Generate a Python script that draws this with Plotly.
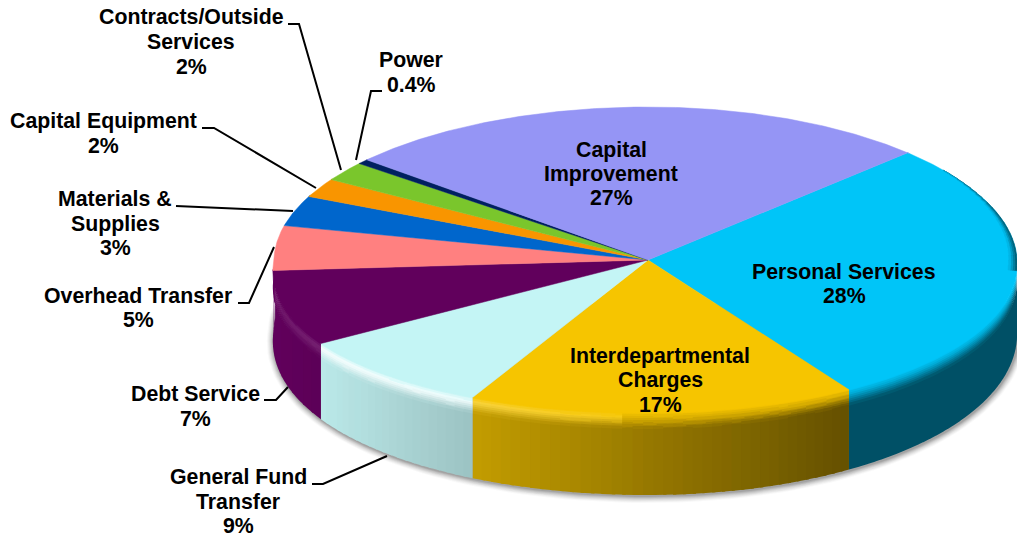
import math
import numpy as np
import plotly.graph_objects as go

# ---- data ----
categories = ["Personal Services", "Interdepartmental Charges", "General Fund Transfer",
              "Debt Service", "Overhead Transfer", "Materials & Supplies",
              "Capital Equipment", "Contracts/Outside Services", "Power", "Capital Improvement"]
# slice sizes as read from the drawn (perspective) picture
values = [28.47, 16.1, 8.6, 8.1, 4.7, 3.2, 2.0, 2.05, 0.5, 26.28]
percent_labels = ["28%", "17%", "9%", "7%", "5%", "3%", "2%", "2%", "0.4%", "27%"]
top_colors = ["#00C5F8", "#F6C500", "#C4F5F5", "#61005C", "#FF8080",
              "#0066CC", "#F99500", "#7AC62C", "#002060", "#9595F5"]
highlights = [0.0, 0.3, 0.85, 0.14, 0.1, 0.1, 0.1, 0.1, 0.0, 0.0]

# ---- geometry / style ----
W, H = 1017, 537
CX, CY, B = 648.0, 260.0, 153.0
START = 44.5
BEVEL = 16.0
FONT = dict(family="Liberation Sans, Arial, sans-serif", size=21.3, color="black")

label_lines = [
    (["Personal Services", percent_labels[0]], 844, [272, 296]),
    (["Interdepartmental", "Charges", percent_labels[1]], 660, [356, 380, 405]),
    (["General Fund", "Transfer", percent_labels[2]], 238, [477, 502, 526]),
    (["Debt Service", percent_labels[3]], 195, [394, 419]),
    (["Overhead Transfer", percent_labels[4]], 138, [296, 320]),
    (["Materials &", "Supplies", percent_labels[5]], 115, [199, 224, 248]),
    (["Capital Equipment", percent_labels[6]], 103, [121, 146]),
    (["Contracts/Outside", "Services", percent_labels[7]], 191, [17, 42, 67]),
    (["Power", percent_labels[8]], 411, [60, 85]),
    (["Capital", "Improvement", percent_labels[9]], 611, [150, 174, 198]),
]
leaders = [
    ([312, 323, 387], [484, 484, 456]),
    ([264, 276, 288], [400, 400, 387]),
    ([238, 249, 274], [303, 303, 247]),
    ([176, 293], [206, 211]),
    ([202, 214, 316], [128, 128, 188]),
    ([288, 299, 341], [24, 24, 170]),
    ([382, 371, 356], [91, 91, 160]),
]


def rgb(h):
    h = h.lstrip("#")
    return np.array([int(h[i:i + 2], 16) for i in (0, 2, 4)], dtype=float)


def to_hex(c):
    c = np.clip(np.round(np.asarray(c) / 2) * 2, 0, 255).astype(int)
    return "#%02X%02X%02X" % tuple(c)


def lerp(p, q, s):
    return p + (q - p) * s


def half_width(t_deg):
    t = math.radians(t_deg)
    sn, cs = math.sin(t), math.cos(t)
    if sn >= 0:
        return 369 - 7 * sn if cs >= 0 else 374 - 3 * sn
    return 374 + 30 * abs(sn) if cs < 0 else 369 + 12 * abs(sn)


def rim(t_deg, shrink_a=0.0, shrink_b=0.0):
    t = math.radians(t_deg)
    return CX + (half_width(t_deg) - shrink_a) * math.cos(t), CY - (B - shrink_b) * math.sin(t)


def depth(t_deg):
    return 68 + 14 * abs(math.sin(math.radians(t_deg)))


def shade(x):
    return float(np.interp(x, [272, 322, 848], [1.0, 0.95, 0.41]))


def hl_amount(x):
    return float(np.interp(x, [272, 322, 472, 620, 760], [0.6, 1.0, 0.85, 0.3, 0.0]))


# slice angles (clockwise from START), derived from the values
total = sum(values)
edges = [START]
for v in values:
    edges.append(edges[-1] - v / total * 360.0)

polys = {}


def add_poly(color, xs, ys):
    bucket = polys.setdefault(color, ([], []))
    bucket[0].extend(list(xs) + [xs[0], None])
    bucket[1].extend(list(ys) + [ys[0], None])


fig = go.Figure()

# soft shadow below the pie
ts = np.arange(-190, 10.01, 2.0)
for e, alpha in zip([7, 6, 5, 4, 3, 2, 1], [0.03, 0.05, 0.06, 0.07, 0.09, 0.12, 0.15]):
    xs, ys = [], []
    for t in ts:
        x, y = rim(t, -e, -e)
        xs.append(x + 1)
        ys.append(y + depth(t) + 1)
    fig.add_trace(go.Scatter(x=xs, y=ys, mode="lines", fill="toself", line=dict(width=0),
                             fillcolor="rgba(60,60,60,%.2f)" % alpha, hoverinfo="skip"))

# side wall, with bevel bands; neighbouring strips overlap slightly so no seams show
STEP = 1.5
RINGS = 8
OVER = 0.5
for i, col in enumerate(top_colors):
    hi, lo = edges[i], edges[i + 1]
    if (hi + lo) / 2 < -180:
        continue
    next_mid = (edges[i + 1] + edges[i + 2]) / 2
    t0 = -184.0 if next_mid < -180 else max(lo, -184.0)
    t1 = min(hi, 0.0)
    if t0 >= t1:
        continue
    base = rgb(col)
    n = max(1, int(math.ceil((t1 - t0) / STEP)))
    grid = np.linspace(t0, t1, n + 1)
    for a0, a1 in zip(grid[:-1], grid[1:]):
        a2 = min(a1 + OVER, t1)
        xa, ya = rim(a0)
        xb, yb = rim(a2)
        da, db = depth(a0), depth(a2)
        xm = (xa + xb) / 2
        side = base * shade(xm)
        add_poly(to_hex(side), [xa, xb, xb, xa],
                 [ya + BEVEL - 1, yb + BEVEL - 1, yb + db, ya + da])
        hl = lerp(base, np.array([255.0, 255, 255]), highlights[i] * hl_amount(xm))
        if hl_amount(xm) < 0.3 or highlights[i] == 0:
            hl = lerp(base, side, 0.25)
        for r in range(RINGS):
            s0, s1 = r / RINGS, (r + 1) / RINGS
            s = (s0 + s1) / 2
            c = lerp(base, hl, s / 0.35) if s < 0.35 else lerp(hl, side, (s - 0.35) / 0.65)
            y_top = s0 * BEVEL - 1
            y_bot = s1 * BEVEL
            add_poly(to_hex(c), [xa, xb, xb, xa],
                     [ya + y_top, yb + y_top, yb + y_bot, ya + y_bot])

# paint lighter colours in a fixed order, bevel rings last is not needed: colours adjoin closely
for color, (xs, ys) in polys.items():
    fig.add_trace(go.Scatter(x=xs, y=ys, mode="lines", fill="toself", fillcolor=color,
                             line=dict(width=0), hoverinfo="skip"))

# top faces
for i, col in enumerate(top_colors):
    grid = np.arange(edges[i], edges[i + 1] - 0.5, -0.5).tolist() + [edges[i + 1]]
    pts = [rim(t) for t in grid]
    xs = [CX] + [p[0] for p in pts] + [CX]
    ys = [CY] + [p[1] for p in pts] + [CY]
    fig.add_trace(go.Scatter(x=xs, y=ys, mode="lines", fill="toself", fillcolor=col,
                             line=dict(color=col, width=0.5), hoverinfo="skip"))

# dark rim on the right of the first slice, fading out towards the back
base = rgb(top_colors[0])
dark = base * 0.41
for a0 in np.arange(-4, 36, 2.0):
    a1 = a0 + 2.0
    for r in range(4):
        f = max(0.0, 1 - (a0 + 4) / 40)
        w = 9 * f
        c = lerp(dark, base, (r + 0.5) / 4)
        p = [rim(a0, w * r / 4, w * r / 4), rim(a1, w * r / 4, w * r / 4),
             rim(a1, w * (r + 1) / 4, w * (r + 1) / 4), rim(a0, w * (r + 1) / 4, w * (r + 1) / 4)]
        xs, ys = [q[0] for q in p], [q[1] for q in p]
        fig.add_trace(go.Scatter(x=xs + xs[:1], y=ys + ys[:1], mode="lines", fill="toself",
                                 fillcolor=to_hex(c), line=dict(color=to_hex(c), width=0.5),
                                 hoverinfo="skip"))

# leader lines
for lx, ly in leaders:
    fig.add_trace(go.Scatter(x=lx, y=ly, mode="lines", line=dict(color="black", width=2),
                             hoverinfo="skip"))

# labels
for lines, x, ys in label_lines:
    for text, y in zip(lines, ys):
        fig.add_annotation(x=x, y=y, text="<b>%s</b>" % text.replace("&", "&amp;"),
                           showarrow=False, font=FONT, xanchor="center", yanchor="middle")

fig.update_layout(
    width=W, height=H, showlegend=False, margin=dict(l=0, r=0, t=0, b=0),
    paper_bgcolor="white", plot_bgcolor="white",
    xaxis=dict(range=[0, W], visible=False, fixedrange=True),
    yaxis=dict(range=[H, 0], visible=False, fixedrange=True),
)
fig.write_html("out.html", config=dict(displayModeBar=False),
               post_script="document.body.style.margin='0';document.body.style.overflow='hidden';")
